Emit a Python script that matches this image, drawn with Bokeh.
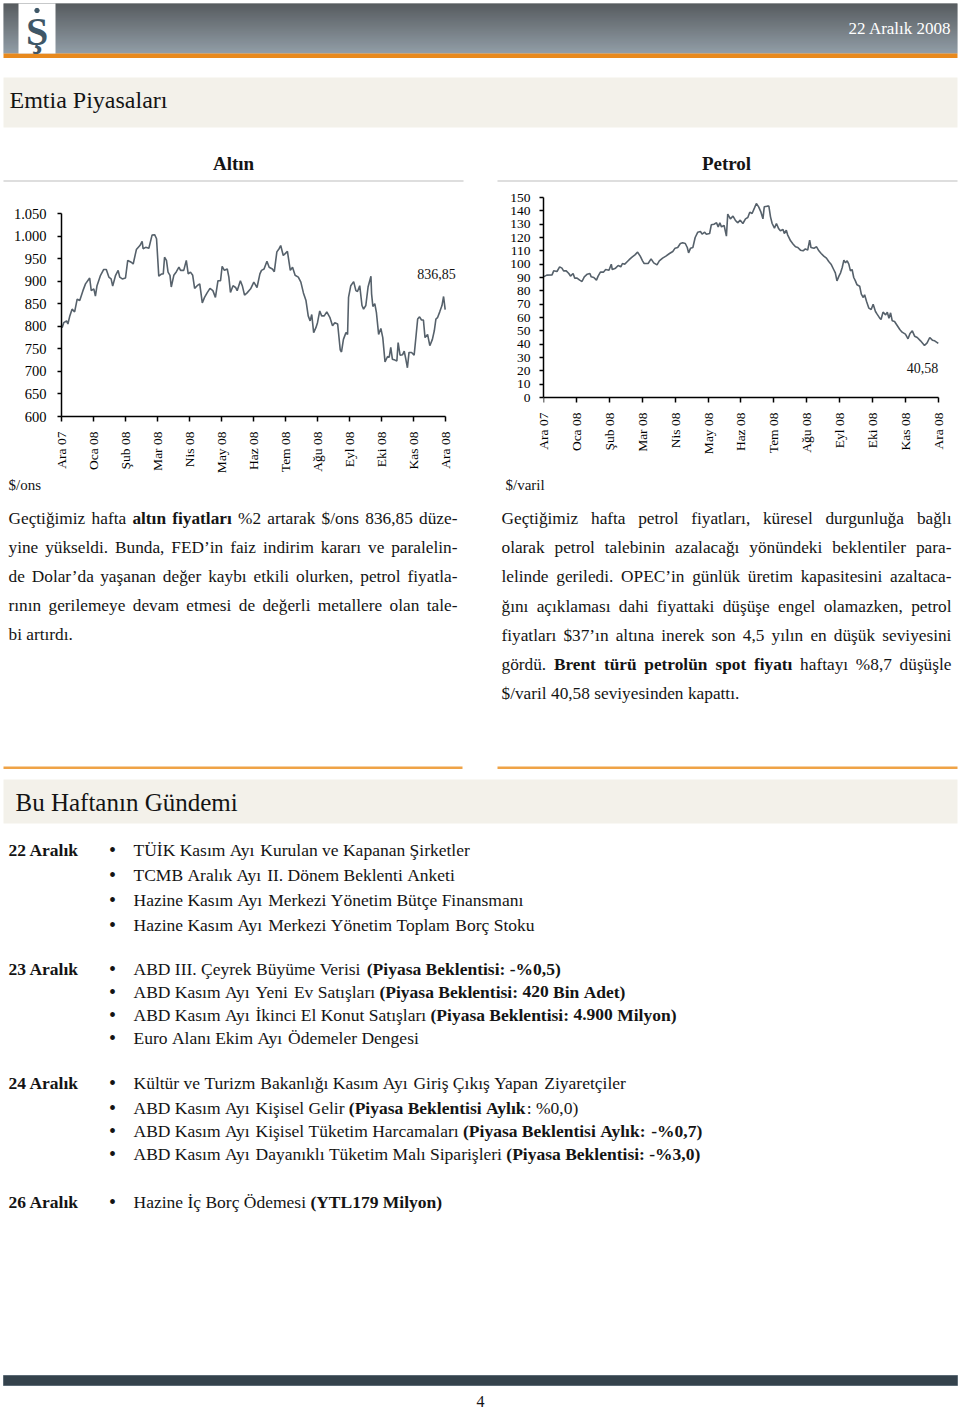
import math
from bokeh.plotting import figure
from bokeh.models import Range1d, FixedTicker, ColumnDataSource, Label, LinearAxis
from bokeh.layouts import column, row
from bokeh.embed import file_html
from bokeh.resources import INLINE
from bokeh.core.properties import value, field

# ---------------- data ----------------
MONTH_LABELS = ["Ara 07", "Oca 08", "Şub 08", "Mar 08", "Nis 08", "May 08", "Haz 08",
                "Tem 08", "Ağu 08", "Eyl 08", "Eki 08", "Kas 08", "Ara 08"]

GOLD_TICKS = [600, 650, 700, 750, 800, 850, 900, 950, 1000, 1050]
GOLD_TICK_LABELS = ["600", "650", "700", "750", "800", "850", "900", "950", "1.000", "1.050"]
OIL_TICKS = [0, 10, 20, 30, 40, 50, 60, 70, 80, 90, 100, 110, 120, 130, 140, 150]

# time in months since "Ara 07"
gold_t = [0.02, 0.07, 0.16, 0.20, 0.26, 0.33, 0.41, 0.49, 0.57, 0.67,
          0.75, 0.88, 0.93, 1.01, 1.06, 1.11, 1.22, 1.32, 1.40, 1.48,
          1.55, 1.60, 1.69, 1.77, 1.82, 1.90, 2.00, 2.07, 2.18, 2.24,
          2.34, 2.45, 2.52, 2.55, 2.63, 2.73, 2.83, 2.91, 2.97, 3.04,
          3.13, 3.18, 3.22, 3.28, 3.33, 3.39, 3.43, 3.51, 3.59, 3.67,
          3.72, 3.82, 3.90, 3.96, 4.03, 4.10, 4.16, 4.24, 4.32, 4.40,
          4.47, 4.55, 4.64, 4.73, 4.81, 4.89, 4.97, 5.02, 5.09, 5.18,
          5.23, 5.28, 5.36, 5.44, 5.49, 5.59, 5.65, 5.72, 5.80, 5.91,
          6.01, 6.11, 6.20, 6.25, 6.33, 6.42, 6.49, 6.59, 6.65, 6.73,
          6.80, 6.85, 6.93, 6.99, 7.06, 7.15, 7.22, 7.30, 7.40, 7.48,
          7.56, 7.64, 7.71, 7.77, 7.82, 7.88, 7.95, 8.00, 8.07, 8.13,
          8.21, 8.29, 8.39, 8.47, 8.54, 8.63, 8.71, 8.75, 8.81, 8.89,
          8.94, 8.97, 9.04, 9.13, 9.20, 9.25, 9.32, 9.39, 9.44, 9.51,
          9.58, 9.67, 9.69, 9.73, 9.79, 9.84, 9.91, 9.98, 10.04, 10.11,
          10.19, 10.24, 10.29, 10.34, 10.42, 10.48, 10.52, 10.58, 10.66, 10.71,
          10.76, 10.81, 10.86, 10.94, 11.02, 11.08, 11.13, 11.19, 11.25, 11.31,
          11.36, 11.44, 11.51, 11.59, 11.65, 11.70, 11.75, 11.82, 11.89, 11.94,
          11.99]
gold_v = [797, 808, 812, 805, 823, 838, 832, 860, 857, 879,
          894, 907, 879, 883, 867, 890, 913, 926, 926, 909,
          905, 889, 913, 924, 909, 905, 907, 946, 942, 938,
          970, 979, 988, 972, 975, 973, 1002, 1003, 994, 911,
          916, 916, 953, 946, 920, 913, 887, 913, 921, 931,
          924, 924, 946, 916, 920, 913, 884, 890, 894, 852,
          864, 874, 884, 879, 864, 901, 901, 933, 924, 927,
          909, 875, 890, 886, 879, 901, 890, 869, 874, 883,
          898, 886, 916, 924, 927, 944, 931, 927, 921, 965,
          972, 979, 957, 961, 966, 924, 931, 913, 909, 898,
          874, 857, 823, 812, 826, 786, 797, 808, 834, 823,
          823, 832, 819, 801, 808, 805, 748, 743, 771, 786,
          782, 864, 890, 899, 879, 877, 890, 846, 838, 846,
          887, 911, 872, 844, 850, 831, 782, 795, 775, 721,
          733, 731, 753, 727, 725, 723, 764, 736, 737, 745,
          727, 708, 742, 742, 736, 779, 816, 821, 814, 814,
          775, 782, 757, 771, 790, 816, 819, 832, 846, 866,
          836.85]

oil_t = [0.00, 0.10, 0.26, 0.31, 0.41, 0.49, 0.56, 0.61, 0.69, 0.77,
         0.82, 0.90, 0.95, 1.02, 1.10, 1.17, 1.24, 1.33, 1.41, 1.45,
         1.53, 1.61, 1.66, 1.73, 1.82, 1.89, 1.99, 2.06, 2.09, 2.19,
         2.27, 2.35, 2.40, 2.47, 2.55, 2.63, 2.70, 2.78, 2.86, 2.94,
         3.01, 3.06, 3.18, 3.27, 3.35, 3.45, 3.52, 3.62, 3.72, 3.83,
         3.93, 4.00, 4.08, 4.16, 4.23, 4.31, 4.37, 4.41, 4.47, 4.54,
         4.61, 4.69, 4.77, 4.82, 4.90, 4.95, 5.05, 5.10, 5.18, 5.26,
         5.31, 5.36, 5.41, 5.49, 5.56, 5.60, 5.68, 5.76, 5.83, 5.90,
         5.98, 6.06, 6.14, 6.21, 6.27, 6.34, 6.41, 6.47, 6.54, 6.61,
         6.67, 6.71, 6.80, 6.85, 6.90, 6.95, 7.02, 7.08, 7.15, 7.20,
         7.28, 7.32, 7.38, 7.42, 7.51, 7.59, 7.66, 7.73, 7.81, 7.89,
         7.96, 8.03, 8.09, 8.13, 8.22, 8.30, 8.37, 8.44, 8.52, 8.60,
         8.67, 8.74, 8.82, 8.87, 8.92, 8.98, 9.03, 9.08, 9.13, 9.18,
         9.23, 9.28, 9.33, 9.38, 9.43, 9.48, 9.53, 9.61, 9.66, 9.72,
         9.76, 9.82, 9.89, 9.96, 10.02, 10.09, 10.14, 10.22, 10.26, 10.32,
         10.40, 10.45, 10.50, 10.55, 10.60, 10.67, 10.75, 10.83, 10.90, 11.00,
         11.08, 11.14, 11.21, 11.28, 11.36, 11.46, 11.58, 11.66, 11.74, 11.82,
         11.89, 12.00]
oil_v = [90.5, 91.8, 92, 95, 94.5, 98, 97, 95, 95, 93,
         91, 93, 89.5, 89.5, 88, 87, 90.5, 92.5, 93, 90.5,
         90, 88, 91, 94, 94, 96, 95.5, 100, 96, 97,
         99, 98, 100.5, 100, 102, 104, 105.5, 107, 109, 106,
         102.5, 100.5, 100.5, 104, 101, 99.5, 102.5, 104.5, 106, 108,
         109.5, 112, 112.5, 115.5, 116, 115.5, 112.5, 108.5, 112, 112.5,
         120, 124, 124.5, 122.5, 124, 122.5, 123, 129.5, 130, 131,
         128, 131, 128, 129, 121, 137.5, 134, 136, 133, 131,
         133, 130.5, 134, 135, 139, 138, 142, 145.5, 143, 139,
         134, 143, 143.5, 143.5, 135.5, 130.5, 127, 130.5, 126.5, 125,
         126, 123, 125.5, 122, 117.5, 115, 113, 112.5, 110.5, 110,
         111.5, 110.5, 118, 112.5, 112, 113, 110, 108, 106, 104.5,
         102, 100, 96, 93.5, 87.5, 91, 93.5, 97.5, 103, 101,
         102.5, 100, 95, 96, 90, 87.5, 84.5, 83.5, 77.5, 75,
         77, 72, 67, 66, 70, 64.5, 62.5, 59.5, 58.5, 64,
         62, 64, 59.5, 63.5, 57.5, 57, 54, 51, 49, 47.5,
         44, 48, 50, 46, 45, 42.5, 39, 41, 45, 43,
         42.5, 40.58]

GOLD_TEXT = [
    [("Geçtiğimiz hafta ", False), ("altın fiyatları", True), (" %2 artarak $/ons 836,85 düze-", False)],
    [("yine yükseldi. Bunda, FED’in faiz indirim kararı ve paralelin-", False)],
    [("de Dolar’da yaşanan değer kaybı etkili olurken, petrol fiyatla-", False)],
    [("rının gerilemeye devam etmesi de değerli metallere olan tale-", False)],
    [("bi artırdı.", False)],
]
OIL_TEXT = [
    [("Geçtiğimiz hafta petrol fiyatları, küresel durgunluğa bağlı", False)],
    [("olarak petrol talebinin azalacağı yönündeki beklentiler para-", False)],
    [("lelinde geriledi. OPEC’in günlük üretim kapasitesini azaltaca-", False)],
    [("ğını açıklaması dahi fiyattaki düşüşe engel olamazken, petrol", False)],
    [("fiyatları $37’ın altına inerek son 4,5 yılın en düşük seviyesini", False)],
    [("gördü. ", False), ("Brent türü petrolün spot fiyatı", True), (" haftayı %8,7 düşüşle", False)],
    [("$/varil 40,58 seviyesinden kapattı.", False)],
]

AGENDA_DATES = ["22 Aralık", "23 Aralık", "24 Aralık", "26 Aralık"]
AGENDA_ITEMS = [
    [[("TÜİK Kasım Ayı Kurulan ve Kapanan Şirketler", False)],
     [("TCMB Aralık Ayı II. Dönem Beklenti Anketi", False)],
     [("Hazine Kasım Ayı Merkezi Yönetim Bütçe Finansmanı", False)],
     [("Hazine Kasım Ayı Merkezi Yönetim Toplam Borç Stoku", False)]],
    [[("ABD III. Çeyrek Büyüme Verisi ", False), ("(Piyasa Beklentisi: -%0,5)", True)],
     [("ABD Kasım Ayı Yeni Ev Satışları ", False), ("(Piyasa Beklentisi: 420 Bin Adet)", True)],
     [("ABD Kasım Ayı İkinci El Konut Satışları ", False), ("(Piyasa Beklentisi: 4.900 Milyon)", True)],
     [("Euro Alanı Ekim Ayı Ödemeler Dengesi", False)]],
    [[("Kültür ve Turizm Bakanlığı Kasım Ayı Giriş Çıkış Yapan Ziyaretçiler", False)],
     [("ABD Kasım Ayı Kişisel Gelir ", False), ("(Piyasa Beklentisi Aylık", True), (": %0,0)", False)],
     [("ABD Kasım Ayı Kişisel Tüketim Harcamaları ", False), ("(Piyasa Beklentisi Aylık: -%0,7)", True)],
     [("ABD Kasım Ayı Dayanıklı Tüketim Malı Siparişleri ", False), ("(Piyasa Beklentisi: -%3,0)", True)]],
    [[("Hazine İç Borç Ödemesi ", False), ("(YTL179 Milyon)", True)]],
]

# ---------------- styling helpers ----------------
SERIF = "Liberation Serif"
INK = "#141414"
LINE = "#56616b"
PAGE_W = 960

REG = dict(zip("abcdefghijklmnopqrstuvwxyz",
               [444, 500, 444, 500, 444, 333, 500, 500, 278, 278, 500, 278, 778, 500, 500, 500, 500, 333, 389, 278, 500, 500, 722, 500, 500, 444]))
REG.update(dict(zip("ABCDEFGHIJKLMNOPQRSTUVWXYZ",
                    [722, 667, 667, 722, 611, 556, 722, 722, 333, 389, 722, 611, 889, 722, 722, 556, 722, 667, 556, 611, 722, 722, 944, 722, 722, 611])))
REG.update({" ": 250, ".": 250, ",": 250, ":": 278, ";": 278, "-": 333, "(": 333, ")": 333,
            "%": 833, "$": 500, "’": 333, "/": 278, "ı": 278})
BOLD = dict(zip("abcdefghijklmnopqrstuvwxyz",
                [500, 556, 444, 556, 444, 333, 500, 556, 278, 333, 556, 278, 833, 556, 500, 556, 556, 444, 389, 333, 556, 500, 722, 500, 500, 444]))
BOLD.update(dict(zip("ABCDEFGHIJKLMNOPQRSTUVWXYZ",
                     [722, 667, 722, 722, 667, 611, 778, 778, 389, 500, 778, 667, 944, 722, 778, 611, 778, 722, 556, 667, 722, 722, 1000, 722, 722, 667])))
BOLD.update({" ": 250, ".": 250, ",": 250, ":": 333, ";": 333, "-": 333, "(": 333, ")": 333,
             "%": 1000, "$": 500, "’": 333, "/": 278, "ı": 278})
FOLD = {"ç": "c", "ğ": "g", "ö": "o", "ş": "s", "ü": "u", "Ç": "C", "Ğ": "G", "İ": "I", "Ö": "O", "Ş": "S", "Ü": "U"}


def text_width(s, bold, size):
    tab = BOLD if bold else REG
    return sum(tab.get(FOLD.get(c, c), 500) for c in s) * size / 1000.0


class TextBag:
    def __init__(self):
        self.items = []

    def add(self, x, y, text, size, bold=False, color=INK, align="left", font=SERIF):
        self.items.append((x, y, text, "%gpx" % size, bold, color, align, font))

    def render(self, p):
        groups = {}
        for x, y, t, s, b, c, a, f in self.items:
            g = groups.setdefault((b, c, a, f), dict(x=[], y=[], text=[], fs=[]))
            g["x"].append(x); g["y"].append(y); g["text"].append(t); g["fs"].append(s)
        for (b, c, a, f), d in groups.items():
            p.text(x="x", y="y", text="text", source=ColumnDataSource(d),
                   text_font=value(f), text_font_size=field("fs"),
                   text_font_style="bold" if b else "normal", text_color=c,
                   text_align=a, text_baseline="middle")


def set_line(bag, segs, x0, y, size, x1=None):
    tokens = []  # [text, bold, space_before]
    pending = False
    for txt, b in segs:
        parts = txt.split(" ")
        for k, w in enumerate(parts):
            if k > 0:
                pending = True
            if w:
                tokens.append([w, b, bool(tokens) and pending])
                pending = False
    widths = [text_width(w, b, size) for w, b, _ in tokens]
    n_gaps = sum(1 for t in tokens if t[2])
    if x1 is not None and n_gaps > 0:
        gap = (x1 - x0 - sum(widths)) / n_gaps
    else:
        gap = 0.25 * size
    x = x0
    for (w, b, sp), wd in zip(tokens, widths):
        if sp:
            x += gap
        bag.add(x, y, w, size, bold=b)
        x += wd


def canvas(top, bottom):
    p = figure(width=PAGE_W, height=bottom - top, x_range=Range1d(0, PAGE_W), y_range=Range1d(bottom, top),
               x_axis_location=None, y_axis_location=None, output_backend="svg",
               toolbar_location=None, min_border=0)
    p.grid.visible = False
    p.outline_line_color = None
    p.background_fill_color = "white"
    p.border_fill_color = "white"
    return p


def hex_mix(c1, c2, t):
    a = [int(c1[i:i + 2], 16) for i in (1, 3, 5)]
    b = [int(c2[i:i + 2], 16) for i in (1, 3, 5)]
    return "#%02x%02x%02x" % tuple(int(round(a[k] + (b[k] - a[k]) * t)) for k in range(3))


# ---------------- top canvas (screen y 0..190) ----------------
top = canvas(0, 190)
n = 50
ys = [3 + i for i in range(n)]
top.quad(left=3, right=957, top=ys, bottom=[v + 1.05 for v in ys],
         color=[hex_mix("#20262b", "#6d7d89", i / (n - 1)) for i in range(n)], line_color=None)
top.quad(left=3, right=957, top=53, bottom=57.5, color="#e8891d", line_color=None)
top.quad(left=18, right=55, top=3, bottom=53, color="white", line_color=None)
top.circle(x=[36.5], y=[10], radius=2.2, color="#3f5767")
top.quad(left=3, right=957, top=77, bottom=127, color="#f3f1ea", line_color=None)
top.quad(left=3, right=463, top=179.5, bottom=181.5, color="#dedede", line_color=None)
top.quad(left=497, right=957, top=179.5, bottom=181.5, color="#dedede", line_color=None)

tb = TextBag()
tb.add(36.5, 31, "Ş", 40, bold=True, color="#3f5767", align="center")
tb.add(951, 28, "22 Aralık 2008", 17, color="white", align="right")
tb.add(9, 99, "Emtia Piyasaları", 24)
tb.add(233, 163, "Altın", 19, bold=True, align="center")
tb.add(726, 163, "Petrol", 19, bold=True, align="center")
tb.render(top)


# ---------------- charts (screen y 190..478; both frames span y 197..416) ----------------
CH_TOP, CH_BOTTOM, CH_H = 7, 62, 288


def style_axis(ax, size="13.5px"):
    ax.axis_line_color = "black"
    ax.axis_line_width = 1.5
    ax.major_tick_line_color = "black"
    ax.major_tick_line_width = 1.5
    ax.major_tick_out = 5
    ax.major_tick_in = 0
    ax.minor_tick_line_color = None
    ax.major_label_text_font = SERIF
    ax.major_label_text_font_size = size
    ax.major_label_text_color = "black"


def chart(width, left, right, xend, yr, ybounds, yticks, ylabels, label_size, standoff):
    p = figure(width=width, height=CH_H, x_range=Range1d(0, xend), y_range=Range1d(*yr),
               output_backend="svg", toolbar_location=None,
               min_border_left=left, min_border_right=right,
               min_border_top=CH_TOP, min_border_bottom=CH_BOTTOM)
    p.grid.visible = False
    p.outline_line_color = None
    p.background_fill_color = "white"
    p.border_fill_color = "white"
    p.xaxis.ticker = FixedTicker(ticks=list(range(13)))
    p.xaxis.major_label_overrides = {i: MONTH_LABELS[i] for i in range(13)}
    p.xaxis.major_label_orientation = math.pi / 2
    p.xaxis.bounds = (0, 12)
    p.yaxis.ticker = FixedTicker(ticks=yticks)
    p.yaxis.major_label_overrides = {t: l for t, l in zip(yticks, ylabels)}
    p.yaxis.bounds = ybounds
    style_axis(p.xaxis[0])
    style_axis(p.yaxis[0])
    p.xaxis.major_label_standoff = 10
    p.yaxis.major_label_standoff = standoff
    p.yaxis.major_label_text_font_size = label_size
    p.yaxis.major_tick_out = 4
    return p


FRAME_H = CH_H - CH_TOP - CH_BOTTOM  # 219 px, screen 197..416

# gold: 1050 at y=213, 600 at y=416 -> 203 px for 450 units
g_top = 600 + 450 * FRAME_H / 203.0
gold = chart(488, 61, 24, 403 / 32.0, (600, g_top), (600, 1050), GOLD_TICKS, GOLD_TICK_LABELS, "14.5px", 11)
gold.line(gold_t, gold_v, line_color=LINE, line_width=1.6)
gold.add_layout(Label(x=11.72, y=915, text=("%.2f" % gold_v[-1]).replace(".", ","),
                      text_font=SERIF, text_font_size="14px", text_align="center",
                      text_baseline="middle", text_color=INK))

# oil: 150 at y=197, 0 at y=397 -> 200 px for 150 units; frame bottom at 416
o_bottom = -150 * (FRAME_H - 200) / 200.0
oil = chart(472, 55, 14, 403 / 32.9, (o_bottom, 150), (0, 150), OIL_TICKS,
            [str(t) for t in OIL_TICKS], "13.5px", 9)
# month labels: from the frame-edge axis, pulled up to sit under the 0 line
lab_ax = oil.xaxis[0]
lab_ax.axis_line_color = None
lab_ax.major_tick_line_color = None
lab_ax.major_tick_out = 0
lab_ax.major_label_standoff = -4
# axis line + ticks at value 0
zero_ax = LinearAxis(ticker=FixedTicker(ticks=list(range(13))), fixed_location=0,
                     major_label_overrides={i: "" for i in range(13)})
zero_ax.bounds = (0, 12)
style_axis(zero_ax)
zero_ax.major_label_text_font_size = "1px"
oil.add_layout(zero_ax, "below")
oil.line(oil_t, oil_v, line_color=LINE, line_width=1.6)
oil.add_layout(Label(x=11.52, y=22.5, text=("%.2f" % oil_v[-1]).replace(".", ","),
                     text_font=SERIF, text_font_size="14px", text_align="center",
                     text_baseline="middle", text_color=INK))

# ---------------- bottom canvas (screen y 478..1411) ----------------
bot = canvas(478, 1411)
bot.quad(left=3, right=462, top=766, bottom=768.5, color="#efa347", line_color=None)
bot.quad(left=497, right=957, top=766, bottom=768.5, color="#efa347", line_color=None)
bot.quad(left=3, right=957, top=779, bottom=823, color="#f3f1ea", line_color=None)
bot.quad(left=3, right=957, top=1375, bottom=1385,
         color="#34424c", line_color="#5b6a75", line_width=1)

bb = TextBag()
bb.add(8, 484, "$/ons", 15)
bb.add(505, 484, "$/varil", 15)

PAR = 17.3
for i, segs in enumerate(GOLD_TEXT):
    last = i == len(GOLD_TEXT) - 1
    set_line(bb, segs, 8, 518 + 29.1 * i, PAR, None if last else 457)
for i, segs in enumerate(OIL_TEXT):
    last = i == len(OIL_TEXT) - 1
    set_line(bb, segs, 501, 518 + 29.2 * i, PAR, None if last else 951)

bb.add(15, 802, "Bu Haftanın Gündemi", 25)

AG = 17.5
ROW_Y = [[849, 874, 899, 924], [968, 991, 1014, 1037], [1082, 1107, 1130, 1153], [1201]]
for d, items, yrow in zip(AGENDA_DATES, AGENDA_ITEMS, ROW_Y):
    bb.add(8, yrow[0], d, AG, bold=True)
    for segs, y in zip(items, yrow):
        bb.add(112, y, "•", 20, align="center")
        set_line(bb, segs, 133, y, AG)

bb.add(480, 1401, "4", 16, align="center")
bb.render(bot)

layout = column(top, row(gold, oil), bot)
open("out.html", "w").write(file_html(layout, INLINE))
